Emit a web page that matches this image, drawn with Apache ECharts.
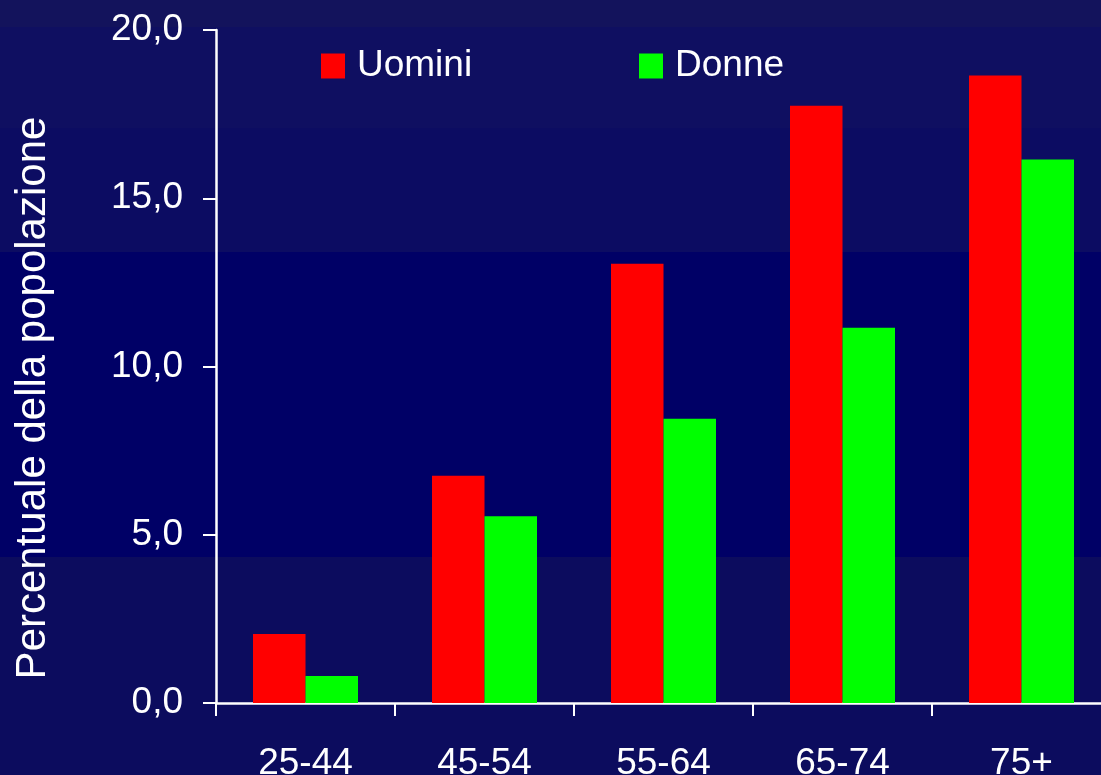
<!DOCTYPE html>
<html>
<head>
<meta charset="utf-8">
<script src="https://cdn.jsdelivr.net/npm/echarts@6/dist/echarts.min.js"></script>
<style>
html,body{margin:0;padding:0;width:1101px;height:775px;overflow:hidden;
background:linear-gradient(to bottom,#13135c 0px,#13135c 27px,#0f0f61 27px,#0f0f61 128px,#0c0c62 128px,#0c0c62 252px,#000066 252px,#000066 557px,#0c0c5e 557px,#0c0c5e 775px);}
#chart{width:1111px;height:775px;}
</style>
</head>
<body>
<div id="chart"></div>
<script>
const categories = ['25-44', '45-54', '55-64', '65-74', '75+'];
const uomini = [2.05, 6.75, 13.05, 17.75, 18.65];
const donne = [0.8, 5.55, 8.45, 11.15, 16.15];
const yTitle = 'Percentuale della popolazione';

const FONT = '"Liberation Sans", Arial, sans-serif';
const chart = echarts.init(document.getElementById('chart'));
chart.setOption({
  backgroundColor: 'transparent',
  animation: false,
  textStyle: { fontFamily: FONT },
  grid: { left: 216, top: 30, right: 0, bottom: 72, containLabel: false, outerBoundsMode: 'none' },
  legend: [
    { data: ['Uomini'], left: 321, top: 46, padding: 0, itemWidth: 24, itemHeight: 25, icon: 'rect',
      textStyle: { color: '#ffffff', fontSize: 37, fontFamily: FONT, lineHeight: 40, padding: [0, 0, 0, 7] } },
    { data: ['Donne'], left: 639, top: 46, padding: 0, itemWidth: 24, itemHeight: 25, icon: 'rect',
      textStyle: { color: '#ffffff', fontSize: 37, fontFamily: FONT, lineHeight: 40, padding: [0, 0, 0, 7] } }
  ],
  graphic: [{
    type: 'text', x: 33, y: 398, rotation: Math.PI / 2,
    style: { text: yTitle, fill: '#ffffff', fontSize: 42, fontFamily: FONT, align: 'center', verticalAlign: 'middle' }
  }],
  xAxis: {
    type: 'category', data: categories,
    axisLine: { lineStyle: { color: '#ffffff', width: 2.5 } },
    axisTick: { show: true, length: 13, lineStyle: { color: '#ffffff', width: 2 } },
    axisLabel: { color: '#ffffff', fontSize: 37, fontFamily: FONT, margin: 42 },
    splitLine: { show: false }
  },
  yAxis: {
    type: 'value', min: 0, max: 20, interval: 5,
    axisLine: { show: true, lineStyle: { color: '#ffffff', width: 2.5 } },
    axisTick: { show: true, length: 13, lineStyle: { color: '#ffffff', width: 2 } },
    axisLabel: { color: '#ffffff', fontSize: 37, fontFamily: FONT, margin: 33,
      formatter: v => v.toFixed(1).replace('.', ',') },
    splitLine: { show: false }
  },
  series: [
    { name: 'Uomini', type: 'bar', data: uomini, barWidth: 52.5, barGap: '0%',
      itemStyle: { color: '#ff0000' } },
    { name: 'Donne', type: 'bar', data: donne, barWidth: 52.5,
      itemStyle: { color: '#00ff00' } }
  ]
});
</script>
</body>
</html>
